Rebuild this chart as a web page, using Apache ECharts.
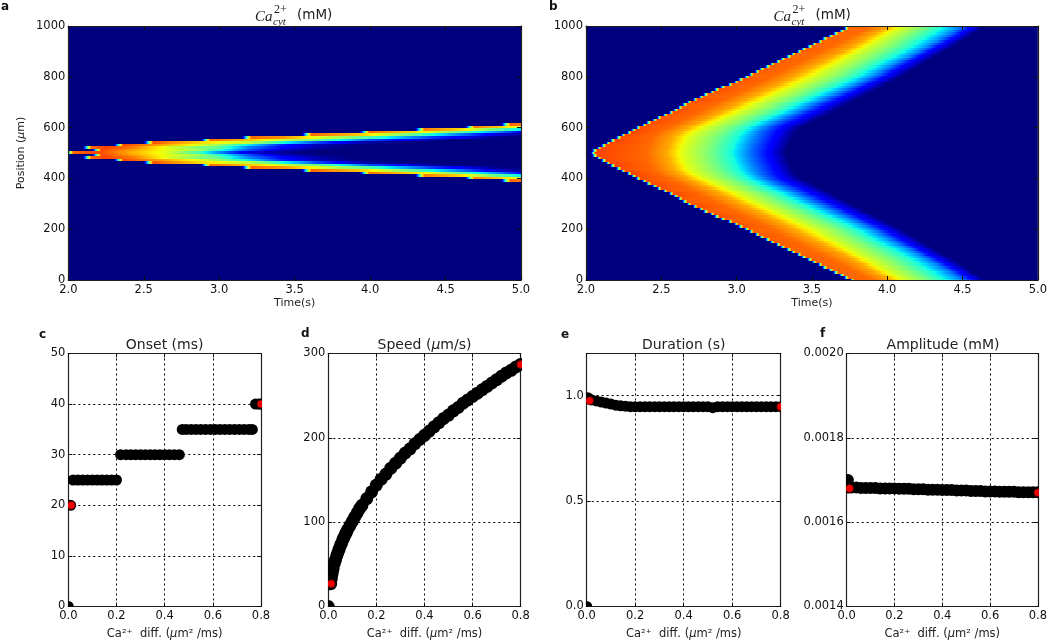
<!DOCTYPE html>
<html>
<head>
<meta charset="utf-8">
<style>html,body{margin:0;padding:0;background:#fff}#c{width:1050px;height:641px;filter:blur(0.5px)}</style>
<script src="https://cdn.jsdelivr.net/npm/echarts@6/dist/echarts.min.js"></script>
</head>
<body>
<div id="c"></div>
<script>
// ---------- Panel a: rows at +/- offset (µm) from the centre; each row is time, value, time, value ...
const centreA = 502;
const rowOffsetsA = [0,10,20,30,40,50,60,70,80,90,100,110];
const rowsA = [
  [1.98,0,2.03,.80,2.20,.84,2.43,.72,2.65,.62,2.87,.42,2.98,.28,3.20,.08,3.42,.02,3.55,0],
  [2.16,0,2.22,.84,2.43,.74,2.65,.63,2.87,.55,2.98,.42,3.20,.20,3.42,.06,3.64,0],
  [2.10,0,2.15,.80,2.25,.84,2.43,.78,2.65,.63,2.87,.50,2.98,.48,3.20,.25,3.42,.12,3.64,.04,3.85,0],
  [2.30,0,2.36,.84,2.65,.72,2.87,.62,2.98,.55,3.20,.35,3.42,.15,3.64,.05,3.90,0],
  [2.50,0,2.56,.83,2.65,.78,2.87,.68,2.98,.65,3.20,.58,3.42,.38,3.64,.20,3.86,.08,3.97,.03,4.20,0],
  [2.88,0,2.94,.80,3.20,.70,3.42,.60,3.64,.48,3.86,.33,3.97,.22,4.41,.03,4.55,0],
  [3.15,0,3.21,.80,3.42,.75,3.64,.63,3.86,.52,3.97,.45,4.41,.18,4.80,.02,4.90,0],
  [3.55,0,3.61,.80,3.86,.72,3.97,.68,4.41,.38,4.80,.10,5.00,.02],
  [3.93,0,3.99,.80,4.41,.62,4.80,.30,5.00,.12],
  [4.30,0,4.36,.78,4.60,.68,4.80,.50,5.00,.35],
  [4.63,0,4.69,.78,4.85,.70,5.00,.60],
  [4.87,0,4.93,.80,5.00,.78]
];
// ---------- Panel b: rows at +/- offset (µm) from 500; times at which each row falls to a colour level
const centreB = 500;
const rowOffsetsB = [0,10,20,30,40,50,60,70,80,90,100,110,120,130,140,150,160,170,180,190,200,210,220,230,240,250,260,270,280,290,300,310,320,330,340,350,360,370,380,390,400,410,420,430,440,450,460,470,480,490,500];
const frontB = [2.06,2.07,2.10,2.13,2.16,2.19,2.23,2.26,2.30,2.33,2.36,
  2.40,2.43,2.47,2.50,2.54,2.58,2.61,2.64,2.67,2.70,
  2.74,2.78,2.81,2.85,2.88,2.92,2.97,3.01,3.04,3.08,
  3.11,3.15,3.18,3.22,3.25,3.29,3.32,3.36,3.39,3.43,
  3.46,3.50,3.53,3.57,3.60,3.64,3.67,3.71,3.74,3.78];
const peakB = [.84,.84,.835,.835,.84,.84,.83,.83,.84,.84,.825,.825,.835,.835,.82,.82,.83,.83,.815,.815,.83,.83,.81,.81,.825,.825,.81,.81,.82,.82,.805,.805,.815,.815,.81,.81,.81,.81,.80,.80,.81,.81,.805,.805,.805,.805,.80,.80,.80,.80,.80];
const levelsB = [.80,.73,.625,.5,.375,.25,.125,0];
const timesAtLevelB = [
  [2.40,2.40,2.41,2.41,2.42,2.43,2.44,2.46,2.48,2.51,2.55,
   2.58,2.62,2.65,2.68,2.72,2.75,2.78,2.81,2.85,2.88,
   2.92,2.95,2.99,3.02,3.06,3.09,3.13,3.16,3.20,3.23,
   3.26,3.30,3.33,3.36,3.40,3.43,3.46,3.49,3.53,3.56,
   3.59,3.63,3.66,3.69,3.73,3.76,3.79,3.83,3.86,3.90],
  [2.54,2.54,2.55,2.55,2.56,2.57,2.58,2.60,2.62,2.65,2.68,
   2.72,2.75,2.79,2.82,2.86,2.89,2.93,2.96,3.00,3.03,
   3.07,3.10,3.14,3.17,3.21,3.24,3.28,3.31,3.35,3.38,
   3.41,3.45,3.48,3.51,3.55,3.58,3.61,3.64,3.68,3.71,
   3.74,3.77,3.80,3.83,3.86,3.89,3.92,3.95,3.99,4.02],
  [2.64,2.64,2.65,2.65,2.66,2.67,2.68,2.70,2.72,2.75,2.78,
   2.82,2.85,2.89,2.92,2.96,3.00,3.03,3.07,3.10,3.14,
   3.18,3.21,3.25,3.28,3.32,3.36,3.39,3.43,3.46,3.50,
   3.53,3.56,3.59,3.62,3.65,3.68,3.71,3.74,3.77,3.80,
   3.83,3.86,3.89,3.92,3.95,3.98,4.01,4.04,4.07,4.10],
  [2.82,2.82,2.83,2.83,2.84,2.85,2.86,2.88,2.90,2.92,2.95,
   2.99,3.02,3.06,3.09,3.13,3.17,3.20,3.24,3.27,3.31,
   3.35,3.38,3.42,3.45,3.49,3.53,3.56,3.60,3.63,3.67,
   3.70,3.73,3.76,3.79,3.82,3.85,3.88,3.91,3.94,3.97,
   4.00,4.03,4.06,4.08,4.11,4.14,4.17,4.20,4.23,4.26],
  [2.97,2.97,2.98,2.98,2.99,3.00,3.01,3.02,3.04,3.06,3.08,
   3.12,3.15,3.19,3.22,3.26,3.30,3.33,3.37,3.40,3.44,
   3.48,3.51,3.55,3.58,3.62,3.66,3.69,3.73,3.76,3.80,
   3.83,3.86,3.89,3.92,3.95,3.98,4.02,4.05,4.08,4.11,
   4.14,4.17,4.20,4.22,4.25,4.28,4.31,4.33,4.36,4.39],
  [3.08,3.08,3.09,3.09,3.10,3.11,3.12,3.13,3.14,3.16,3.18,
   3.22,3.25,3.29,3.32,3.36,3.40,3.43,3.47,3.50,3.54,
   3.58,3.61,3.65,3.68,3.72,3.76,3.79,3.83,3.86,3.90,
   3.93,3.96,3.99,4.02,4.05,4.08,4.12,4.15,4.18,4.21,
   4.24,4.27,4.30,4.33,4.36,4.39,4.42,4.44,4.47,4.50],
  [3.21,3.21,3.22,3.22,3.23,3.24,3.25,3.26,3.27,3.28,3.30,
   3.33,3.37,3.40,3.44,3.47,3.50,3.54,3.57,3.61,3.64,
   3.67,3.71,3.74,3.78,3.81,3.84,3.88,3.91,3.95,3.98,
   4.01,4.04,4.07,4.10,4.13,4.16,4.19,4.22,4.25,4.28,
   4.31,4.34,4.37,4.40,4.43,4.46,4.49,4.51,4.54,4.57],
  [3.33,3.33,3.34,3.34,3.35,3.36,3.37,3.38,3.39,3.41,3.43,
   3.46,3.50,3.53,3.56,3.60,3.63,3.66,3.69,3.73,3.76,
   3.79,3.83,3.86,3.89,3.93,3.96,3.99,4.02,4.06,4.09,
   4.12,4.15,4.18,4.21,4.24,4.26,4.29,4.32,4.35,4.38,
   4.41,4.44,4.46,4.49,4.52,4.55,4.57,4.60,4.62,4.65]
];
// ---------- Panels c-f
const onsetDiff   = [0,.01,.02,.04,.06,.08,.10,.12,.14,.16,.18,.20,.217,.24,.26,.28,.30,.32,.34,.36,.38,.40,.42,.44,.461,.473,.49,.51,.53,.55,.57,.59,.61,.63,.65,.67,.69,.71,.73,.75,.764,.777,.79,.80];
const onsetVal    = [0,20,25,25,25,25,25,25,25,25,25,25,30,30,30,30,30,30,30,30,30,30,30,30,30,35,35,35,35,35,35,35,35,35,35,35,35,35,35,35,35,40,40,40];
const speedDiff   = [0,.01,.0125,.015,.0175,.02,.025,.03,.035,.04,.045,.05,.055,.06,.065,.07,.075,.08,.09,.10,.11,.12,.13,.14,.16,.18,.20,.22,.24,.26,.28,.30,.32,.34,.36,.38,.40,.42,.44,.46,.48,.50,.52,.54,.56,.58,.60,.62,.64,.66,.68,.70,.72,.74,.76,.78,.80];
const speedVal    = [0,27,33,38,42,45,51,55,60,64,68,72,75,79,82,85,88,91,96,101,106,111,116,120,128,136,144,151,157,164,170,176,182,187,193,198,203,208,213,218,223,227,232,236,241,245,249,253,257,261,265,269,273,277,280,284,287];
const durationDiff= [0,.005,.01,.02,.04,.06,.08,.10,.12,.14,.16,.18,.20,.22,.24,.26,.28,.30,.32,.34,.36,.38,.40,.42,.44,.46,.48,.50,.52,.54,.56,.58,.60,.62,.64,.66,.68,.70,.72,.74,.76,.78,.80];
const durationVal = [0,.99,.985,.98,.975,.97,.965,.96,.955,.952,.95,.948,.948,.948,.948,.948,.948,.948,.948,.948,.948,.948,.948,.948,.948,.948,.948,.948,.943,.948,.948,.948,.948,.948,.948,.948,.948,.948,.948,.948,.948,.948,.948];
const amplitudeDiff=[.005,.01,.02,.04,.06,.08,.10,.12,.14,.16,.18,.20,.22,.24,.26,.28,.30,.32,.34,.36,.38,.40,.42,.44,.46,.48,.50,.52,.54,.56,.58,.60,.62,.64,.66,.68,.70,.72,.74,.76,.78,.80];
const amplitudeVal= [.001700,.001682,.001682,.001682,.001681,.001681,.001681,.001681,.001680,.001680,.001680,.001680,.001679,.001679,.001679,.001678,.001678,.001678,.001677,.001677,.001677,.001676,.001676,.001676,.001675,.001675,.001675,.001674,.001674,.001674,.001673,.001673,.001673,.001672,.001672,.001672,.001672,.001671,.001671,.001671,.001671,.001671];
const onsetRed = [[.012,20],[.8,40]];
const speedRed = [[.012,27],[.8,287]];
const durationRed = [[.012,.976],[.8,.948]];
const amplitudeRed = [[.012,.00168],[.8,.00167]];
const timeTicks = {min:2,max:5,interval:.5};

const DEJAVU = '"DejaVu Sans"';
const INK = '#222';

// jet colour map
const jetR=[[0,0],[.35,0],[.66,1],[.89,1],[1,.5]], jetG=[[0,0],[.125,0],[.375,1],[.64,1],[.91,0],[1,0]], jetB=[[0,.5],[.11,1],[.34,1],[.65,0],[1,0]];
const jetKnots=[0,.11,.125,.34,.35,.375,.64,.65,.66,.89,.91,1];
function ch(tbl,v){for(let i=1;i<tbl.length;i++){if(v<=tbl[i][0]){const a=tbl[i-1],b=tbl[i];return a[1]+(b[1]-a[1])*(v-a[0])/(b[0]-a[0]);}}return tbl[tbl.length-1][1];}
function jet(v){return 'rgb('+Math.round(255*ch(jetR,v))+','+Math.round(255*ch(jetG,v))+','+Math.round(255*ch(jetB,v))+')';}

function rowSegments(lo,hi,pts){
  const out=[];
  for(let i=0;i+1<pts.length;i++){out.push([pts[i][0],pts[i+1][0],lo,hi,pts[i][1],pts[i+1][1]]);}
  return out;
}
function pairs(flat){const p=[];for(let i=0;i<flat.length;i+=2)p.push([flat[i],flat[i+1]]);return p;}

const dataA=[];
rowOffsetsA.forEach((off,i)=>{
  const half=5, pts=pairs(rowsA[i]);
  dataA.push(...rowSegments(centreA+off-half,centreA+off+half,pts));
  if(off>0)dataA.push(...rowSegments(centreA-off-half,centreA-off+half,pts));
});
const dataB=[];
rowOffsetsB.forEach((off,i)=>{
  const half=5, pts=[[frontB[i]-.03,0],[frontB[i],peakB[i]]];
  levelsB.forEach((lv,k)=>pts.push([timesAtLevelB[k][i],lv]));
  dataB.push(...rowSegments(centreB+off-half,centreB+off+half,pts));
  if(off>0)dataB.push(...rowSegments(centreB-off-half,centreB-off+half,pts));
});

function renderSeg(params,api){
  const p0=api.coord([api.value(0),api.value(3)]), p1=api.coord([api.value(1),api.value(2)]);
  const x0=Math.round(p0[0]),x1=Math.round(p1[0]),y0=Math.round(p0[1]),y1=Math.round(p1[1]);
  if(x1<=x0||y1<=y0)return null;
  const v0=api.value(4),v1=api.value(5);
  const stops=[{offset:0,color:jet(v0)}];
  const a=Math.min(v0,v1),b=Math.max(v0,v1);
  const ks=jetKnots.filter(k=>k>a&&k<b).map(k=>({offset:(k-v0)/(v1-v0),color:jet(k)}));
  ks.sort((m,n)=>m.offset-n.offset);
  stops.push(...ks,{offset:1,color:jet(v1)});
  return {type:'rect',shape:{x:x0,y:y0,width:x1-x0,height:y1-y0},
    style:{fill:new echarts.graphic.LinearGradient(0,0,1,0,stops)}};
}

// panels (pixel boxes)
const boxes=[
 {l:68.3,r:521,t:26,b:280},{l:586,r:1040,t:26,b:280},
 {l:68.3,r:261,t:353.5,b:607.3},{l:328.3,r:520.7,t:353.5,b:607.3},
 {l:586.7,r:780.7,t:353.5,b:607.3},{l:846.7,r:1039.3,t:353.5,b:607.3}
];
const grid=boxes.map((b,i)=>({left:b.l,top:b.t,width:b.r-b.l,height:b.b-b.t,show:i<2,backgroundColor:'#00007f',borderWidth:0}));
const xAxis=[],yAxis=[];
const lab={fontFamily:DEJAVU,fontSize:11.5,color:'#111'};
function addAxes(g,xo,yo){
  const tick={inside:true,length:4,lineStyle:{color:'#111',width:1}};
  const line={show:true,onZero:false,lineStyle:{color:INK,width:1.2}};
  const dotted={show:g>=2,showMinLine:false,showMaxLine:false,lineStyle:{color:'#000',width:1,type:[2,3]}};
  xAxis.push(Object.assign({type:'value',gridIndex:g,position:'bottom',axisTick:tick,axisLine:line,splitLine:dotted,
    axisLabel:Object.assign({},lab,{margin:4,hideOverlap:false,formatter:v=>v.toFixed(1)}),z:g<2?5:1},xo));
  yAxis.push(Object.assign({type:'value',gridIndex:g,position:'left',axisTick:tick,axisLine:line,splitLine:dotted,
    axisLabel:Object.assign({},lab,{margin:3,hideOverlap:false,formatter:v=>String(v)}),z:g<2?5:1},yo));
  // mirror axes carry the top and right frame with their ticks
  xAxis.push({type:'value',gridIndex:g,position:'top',min:xo.min,max:xo.max,interval:xo.interval,axisTick:tick,axisLine:line,splitLine:{show:false},axisLabel:{show:false},z:g<2?5:1});
  yAxis.push({type:'value',gridIndex:g,position:'right',min:yo.min,max:yo.max,interval:yo.interval,axisTick:tick,axisLine:line,splitLine:{show:false},axisLabel:{show:false},z:g<2?5:1});
}
const diffName='Ca²⁺  diff. ({mu|μ}m² /ms)';
const nameStyle={fontFamily:DEJAVU,fontSize:11.5,color:'#222',rich:{mu:{fontFamily:DEJAVU,fontSize:11.5,fontStyle:'italic',color:'#222'}}};
const nameSmall={fontFamily:DEJAVU,fontSize:11,color:'#222',rich:{mu:{fontFamily:DEJAVU,fontSize:11,fontStyle:'italic',color:'#222'}}};
const diffX={min:0,max:.8,interval:.2,name:diffName,nameLocation:'middle',nameGap:21.5,nameTextStyle:nameStyle};
const timeX=Object.assign({},timeTicks,{name:'Time(s)',nameLocation:'middle',nameGap:17.5,nameTextStyle:nameSmall});
addAxes(0,timeX,{min:0,max:1000,interval:200,name:'Position ({mu|μ}m)',nameLocation:'middle',nameGap:42,nameTextStyle:nameSmall});
addAxes(1,timeX,{min:0,max:1000,interval:200});
addAxes(2,diffX,{min:0,max:50,interval:10});
addAxes(3,diffX,{min:0,max:300,interval:100});
addAxes(4,diffX,{min:0,max:1.2,interval:.5,axisLabel:Object.assign({},lab,{margin:3,hideOverlap:false,formatter:v=>v>1.1?'':v.toFixed(1)})});
addAxes(5,diffX,{min:.0014,max:.002,interval:.0002,axisLabel:Object.assign({},lab,{margin:3,hideOverlap:false,formatter:v=>v.toFixed(4)})});

function heat(g,data){return {type:'custom',xAxisIndex:2*g,yAxisIndex:2*g,data,renderItem:renderSeg,encode:{x:[0,1],y:[2,3]},clip:true,silent:true,animation:false,z:2};}
function zip(a,b){return a.map((v,i)=>[v,b[i]]);}
// dots are custom circles so that they are cut at the frame
function dots(g,pts,r,style,z){
  return {type:'custom',xAxisIndex:2*g,yAxisIndex:2*g,data:pts,encode:{x:0,y:1},clip:true,silent:true,animation:false,z,
    renderItem:(p,api)=>{const c=api.coord([api.value(0),api.value(1)]);return {type:'circle',shape:{cx:c[0],cy:c[1],r},style};}};
}
const black=(g,pts,d)=>dots(g,pts,d/2,{fill:'#000'},3);
const red=(g,pts)=>dots(g,pts,4,{fill:'#f00000',stroke:'#300',lineWidth:.6},4);

const titleOf=(text,b)=>({text,left:(b.l+b.r)/2,top:b.t-15.5,textAlign:'center',padding:0,
  textStyle:{fontFamily:DEJAVU,fontSize:14,fontWeight:'normal',color:'#222',rich:{mu:{fontFamily:DEJAVU,fontSize:14,fontStyle:'italic',color:'#222'}}}});
const title=[
  titleOf('Onset (ms)',boxes[2]),titleOf('Speed ({mu|μ}m/s)',boxes[3]),
  titleOf('Duration (s)',boxes[4]),titleOf('Amplitude (mM)',boxes[5])
];
// panel letters and the math titles
const T=(text,x,y,font,fill)=>({type:'text',silent:true,style:{text,x,y,font,fill:fill||'#222',verticalAlign:'middle'}});
const graphicEls=[
  T('a',1,7,'bold 12px '+DEJAVU,'#111'),T('b',549,7,'bold 12px '+DEJAVU,'#111'),
  T('c',39,335,'bold 12px '+DEJAVU,'#111'),T('d',301,334,'bold 12px '+DEJAVU,'#111'),
  T('e',561,335,'bold 12px '+DEJAVU,'#111'),T('f',820,334,'bold 12px '+DEJAVU,'#111')
];
[0,518.5].forEach(dx=>{
  graphicEls.push(
    T('Ca',255+dx,17,'italic 15px "Liberation Serif"'),
    T('2+',274+dx,10,'12px "Liberation Serif"'),
    T('cyt',273+dx,22,'italic 11px "Liberation Serif"'),
    T('(mM)',297+dx,15,'13.5px '+DEJAVU));
});

const chart=echarts.init(document.getElementById('c'),null,{renderer:'canvas'});
chart.setOption({
  animation:false,backgroundColor:'#fff',grid,xAxis,yAxis,title,graphic:{elements:graphicEls},
  series:[
    heat(0,dataA),heat(1,dataB),
    black(2,zip(onsetDiff,onsetVal),11),red(2,onsetRed),
    black(3,zip(speedDiff,speedVal),13),red(3,speedRed),
    black(4,zip(durationDiff,durationVal),11),red(4,durationRed),
    black(5,zip(amplitudeDiff,amplitudeVal),12),red(5,amplitudeRed)
  ]
});
</script>
</body>
</html>
